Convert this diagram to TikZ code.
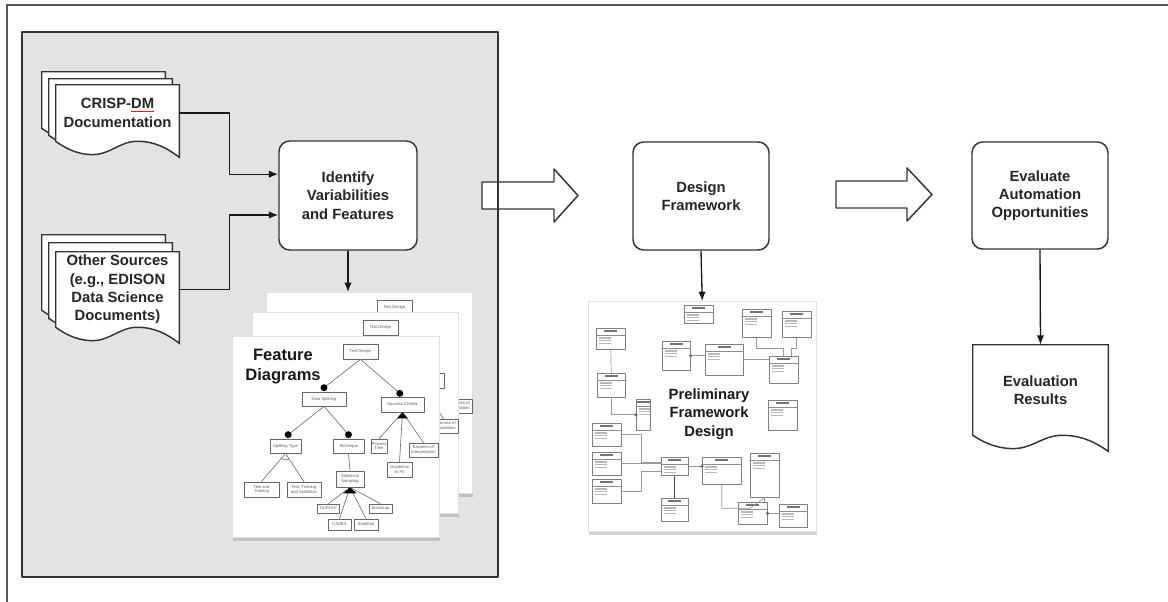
\documentclass[tikz,border=0pt]{standalone}
\usepackage{fontspec}
\setmainfont{Liberation Sans}
\usepackage{tikz}
\usetikzlibrary{arrows.meta, positioning, calc, shadows}

\definecolor{panelgray}{HTML}{E3E3E3}
\definecolor{linedark}{HTML}{333333}
\definecolor{framegray}{HTML}{555555}
\definecolor{spellred}{HTML}{E02020}

\pgfdeclarelayer{bg}
\pgfsetlayers{bg,main}

\newcommand{\stagefont}{\fontsize{11.1}{13.7}\selectfont\bfseries}
\newcommand{\bigfont}{\fontsize{12.4}{15}\selectfont\bfseries}
\newcommand{\tinyfont}{\fontsize{3.1}{3.6}\selectfont}
\newcommand{\redul}[1]{\setbox0\hbox{#1}\rlap{\color{spellred}\rule[-2.4pt]{\wd0}{0.8pt}}\box0}

% outline of a document sheet round node #2, moved by #1
\newcommand{\docshape}[2][(0,0)]{%
  \path[docline] let \p1=($(#2.north west)+#1$), \p2=($(#2.south east)+#1$) in
    (\x1,\y1) -- (\x2,\y1) -- (\x2,{\y2-12pt})
    .. controls ({\x1+0.9*(\x2-\x1)},{\y2-5pt}) and ({\x1+0.8*(\x2-\x1)},{\y2}) .. ({\x1+0.66*(\x2-\x1)},{\y2})
    .. controls ({\x1+0.52*(\x2-\x1)},{\y2}) and ({\x1+0.44*(\x2-\x1)},{\y2-10pt}) .. ({\x1+0.3*(\x2-\x1)},{\y2-10pt})
    .. controls ({\x1+0.16*(\x2-\x1)},{\y2-10pt}) and ({\x1+0.06*(\x2-\x1)},{\y2-4pt}) .. (\x1,\y2) -- cycle;
}

% feature tree, coordinates from the sheet's corner
\newcommand{\fdtree}[1]{%
  \node[fbox, sz={35}{15}] (td#1) at (128.5,15.5) {Test Design};
  \node[fbox, sz={44}{14}] (ds#1) at (92,63) {Data Splitting};
  \node[fbox, sz={43}{15}] (sc#1) at (170.5,68.5) {Success Criteria};
  \node[fbox, sz={31}{14}] (st#1) at (53.5,110) {Splitting Type};
  \node[fbox, sz={31}{14}] (tq#1) at (116.5,110) {Technique};
  \node[fbox, sz={35}{15}] (tt#1) at (29.5,153.5) {Test and\\Training};
  \node[fbox, sz={34}{15}] (tv#1) at (72,153.5) {Test, Training\\and Validation};
  \node[fbox, sz={28}{16}] (ss#1) at (118,143) {Statistical\\Sampling};
  \node[fbox, sz={22}{9}] (du#1) at (96.5,172.5) {DUPLEX};
  \node[fbox, sz={23}{11}] (cx#1) at (107.5,188.5) {CADEX};
  \node[fbox, sz={24}{11}] (sr#1) at (134,188.5) {Stratified};
  \node[fbox, sz={23}{9}] (bs#1) at (148.5,172.5) {Bootstrap};
  \node[fbox, sz={16}{14}] (pt#1) at (147,110) {Process\\Time};
  \node[fbox, sz={25}{15}] (gf#1) at (167.5,133.5) {Goodness\\to Fit};
  \node[fbox, sz={29}{14}] (ei#1) at (191.5,114) {Easiness of\\Interpretation};
  \draw[fdline] (td#1.south) -- ([yshift=3pt]ds#1.north);
  \draw[fdline] (td#1.south) -- ([xshift=-2pt,yshift=2.5pt]sc#1.north);
  \draw[fdline] (ds#1.south) -- ([xshift=2pt,yshift=3pt]st#1.north);
  \draw[fdline] (ds#1.south) -- ([yshift=3pt]tq#1.north);
  \fill ([yshift=3pt]ds#1.north) circle[radius=2.6pt];
  \fill ([xshift=-2pt,yshift=2.5pt]sc#1.north) circle[radius=2.6pt];
  \fill ([xshift=2pt,yshift=3pt]st#1.north) circle[radius=2.6pt];
  \fill ([yshift=3pt]tq#1.north) circle[radius=2.6pt];
  \draw[fdline] (st#1.south) -- (tt#1.north);
  \draw[fdline] (st#1.south) -- (tv#1.north);
  \draw[fdline] ([shift={(-130:5pt)}]st#1.south) arc[start angle=-130, end angle=-57, radius=5pt];
  \draw[fdline] (tq#1.south) -- (ss#1.north);
  \foreach \kid in {du,cx,sr,bs}
    \draw[fdline] (ss#1.south) -- (\kid#1.north);
  \fill (ss#1.south) -- ([xshift=-5pt,yshift=-4.5pt]ss#1.south) -- ([xshift=5pt,yshift=-4.5pt]ss#1.south) -- cycle;
  \foreach \kid in {pt,gf,ei}
    \draw[fdline] (sc#1.south) -- (\kid#1.north);
  \fill (sc#1.south) -- ([xshift=-4pt,yshift=-4.5pt]sc#1.south) -- ([xshift=4pt,yshift=-4.5pt]sc#1.south) -- cycle;
}

% what shows of the tree on a sheet lying behind
\newcommand{\fdback}[1]{%
  \node[fbox, sz={35}{15}] (td#1) at (128.5,15.5) {Test Design};
  \node[fbox, sz={43}{15}] (sc#1) at (170.5,68.5) {};
  \node[fbox, sz={29}{14}, align=right] (ei#1) at (191.5,114) {Easiness of\\Interpretation};
  \draw[fdline] (td#1.south) -- ([xshift=-2pt,yshift=2.5pt]sc#1.north);
  \draw[fdline] (sc#1.south) -- (ei#1.north);
}

\begin{document}
\begin{tikzpicture}[
    x=0.75pt, y=-0.75pt,
    >={Latex[length=7pt,width=5.5pt]},
    line join=round
  ]
  \tikzset{
    sz/.style 2 args = {minimum width=#1*0.75pt, minimum height=#2*0.75pt},
    stage/.style = {draw=linedark, line width=1.1pt, fill=white, rounded corners=8pt,
                    align=center, inner sep=0pt, font=\stagefont, text=black!85},
    docnode/.style = {align=center, inner sep=0pt, font=\stagefont, text=black!85},
    docline/.style = {draw=linedark, line width=1.1pt, fill=white},
    conn/.style = {line width=1pt, black!90},
    hollow/.style = {draw=linedark, line width=1.1pt, fill=white},
    sheet/.style = {draw=black!12, fill=white, inner sep=0pt, anchor=north west,
                    drop shadow={shadow xshift=0.6pt, shadow yshift=-2.6pt, opacity=0.35}},
    fbox/.style = {draw=black!60, line width=0.5pt, fill=white, inner sep=0pt,
                   align=center, font=\tinyfont, text=black!65},
    fdline/.style = {black!55, line width=0.5pt},
    umlbox/.style = {draw=black!50, line width=0.4pt, fill=white, inner sep=0pt, anchor=north west,
      path picture={
        \draw[black!45, line width=0.4pt] ([yshift=-5pt]path picture bounding box.north west)
          -- ([yshift=-5pt]path picture bounding box.north east);
        \fill[black!55] ([xshift=-5pt,yshift=-1.6pt]path picture bounding box.north)
          rectangle ([xshift=5pt,yshift=-3pt]path picture bounding box.north);
        \foreach \k in {1,2,3}
          \fill[black!28] ([xshift=2pt,yshift={-5.8pt-2pt*\k}]path picture bounding box.north west)
            rectangle ++(9pt,0.9pt);
      }},
    umlline/.style = {black!40, line width=0.5pt}
  }

  \useasboundingbox (0,0) rectangle (1168,601);
  \clip (0,0) rectangle (1168,601);

  % Stages
  \node[stage, sz={138}{109}] (identify) at (348,195.5) {Identify\\Variabilities\\and Features};
  \node[stage, sz={136}{108}] (design) at (701,196) {Design\\Framework};
  \node[stage, sz={136}{107}] (evaluate) at (1040,195.5) {Evaluate\\Automation\\Opportunities};

  % Documents
  \node[docnode, sz={123}{56}] (crisp) at (117.5,113) {CRISP-\redul{DM}\\Documentation};
  \node[docnode, sz={123}{75}] (other) at (117.5,289.5) {Other Sources\\(e.g., EDISON\\Data Science\\Documents)};
  \node[docnode, sz={135}{90}] (results) at (1040.5,390) {Evaluation\\Results};

  \begin{pgfonlayer}{bg}
    \fill[panelgray] (22,32) rectangle (498,577);
    \docshape[(-14,-13)]{crisp}
    \docshape[(-7,-6)]{crisp}
    \docshape{crisp}
    \docshape[(-14,-17)]{other}
    \docshape[(-7,-9)]{other}
    \docshape{other}
    \docshape{results}
  \end{pgfonlayer}

  % Hollow arrows between stages
  \draw[hollow] (482,182) -- (554,182) -- (554,169) -- (578,195.5) -- (554,222) -- (554,209) -- (482,209) -- cycle;
  \draw[hollow] (836,181) -- (907,181) -- (907,168) -- (932,194.5) -- (907,221) -- (907,208) -- (836,208) -- cycle;
  \draw[linedark, line width=1.1pt] (22,32) rectangle (498,577);

  % Feature diagram sheets
  \node[sheet, sz={206}{201}] (fdsheeta) at (266,292) {};
  \begin{scope}[shift={(266,292)}] \fdback{a} \end{scope}
  \node[sheet, sz={206}{201}] (fdsheetb) at (252,312) {};
  \begin{scope}[shift={(252,312)}] \fdback{b} \end{scope}
  \node[sheet, sz={207}{201}] (fdsheetc) at (232,336) {};
  \begin{scope}[shift={(232,336)}] \fdtree{c} \end{scope}
  \node[font=\bigfont, align=center, text=black!90] (fdlabel) at (283,367) {Feature\\Diagrams};

  % Preliminary framework sheet
  \node[sheet, sz={228}{230}] (prelimsheet) at (588,301) {};
  \foreach \n/\ux/\uy/\uw/\uh in {u1/684/305/29/18, u2/742/309/29/28, u3/782/311/29/26,
      u4/596/328/29/21, u5/662/341/28/29, u6/705/344/38/31, u7/769/356/29/27,
      u8/597/373/28/24, u9/636/399/14/31, u10/768/400/29/30, u11/592/423/29/23,
      u12/592/452/29/23, u13/592/479/29/24, u14/661/457/27/18, u15/702/457/39/27,
      u16/750/453/29/44, u17/661/498/27/23, u18/738/502/29/22, u19/779/504/28/23}
    \node[umlbox, sz={\uw}{\uh}] (\n) at (\ux,\uy) {};
  \draw[umlline] (u4.south) -- (u8.north);
  \draw[umlline] (u8.south) |- (u9.west);
  \fill[black!60] (u9.west) circle[radius=1.3pt];
  \draw[umlline] (u5.east) -- (u5.east -| u6.west);
  \fill[black!60] (u5.east) circle[radius=1.3pt];
  \draw[umlline] (u2.south) |- ([yshift=6pt]u7.north) -- (u7.north);
  \draw[umlline] (u3.south) |- ([xshift=6pt,yshift=6pt]u7.north) -- ([xshift=6pt]u7.north);
  \draw[umlline] (u6.east) -- (u6.east -| u7.west);
  \draw[umlline] (u11.east) -- ++(20,0) |- ([yshift=3pt]u14.west);
  \draw[umlline] (u12.east) -- (u12.east -| u14.west);
  \draw[umlline] (u13.east) -- ++(20,0) |- ([yshift=-4pt]u14.west);
  \draw[black!70, line width=0.8pt] (u14.south) -- (u17.north);
  \draw[umlline] (u14.east) -- (u14.east -| u15.west);
  \fill[black!60] (u15.west |- u14.east) circle[radius=1.3pt];
  \draw[umlline] (u15.south) |- ([yshift=-8pt]u16.south west) -- (u16.south);
  \draw[umlline] (u16.south) -- (u16.south |- u18.north);
  \draw[umlline] (u18.east) -- (u18.east -| u19.west);
  \fill[black!60] (u18.east) circle[radius=1.3pt];
  \node[fill=white, inner xsep=12pt, inner ysep=5pt, align=center, font=\stagefont, text=black!90]
    (prelim) at (709,414) {Preliminary\\Framework\\Design};

  % Connectors
  \draw[->, conn] (crisp.east) -- ++(50,0) |- ([yshift=16pt]identify.west);
  \draw[->, conn] (other.east) -- ++(50,0) |- ([yshift=-14.6pt]identify.west);
  \draw[->, conn] (identify.south) -- (identify.south |- fdsheeta.north);
  \draw[->, conn] (design.south) -- (prelimsheet.north);
  \draw[->, conn] (evaluate.south) -- (results.north);

  % Outer frame
  \draw[framegray, line width=1.5pt] (7,5) rectangle (1200,640);
\end{tikzpicture}
\end{document}
